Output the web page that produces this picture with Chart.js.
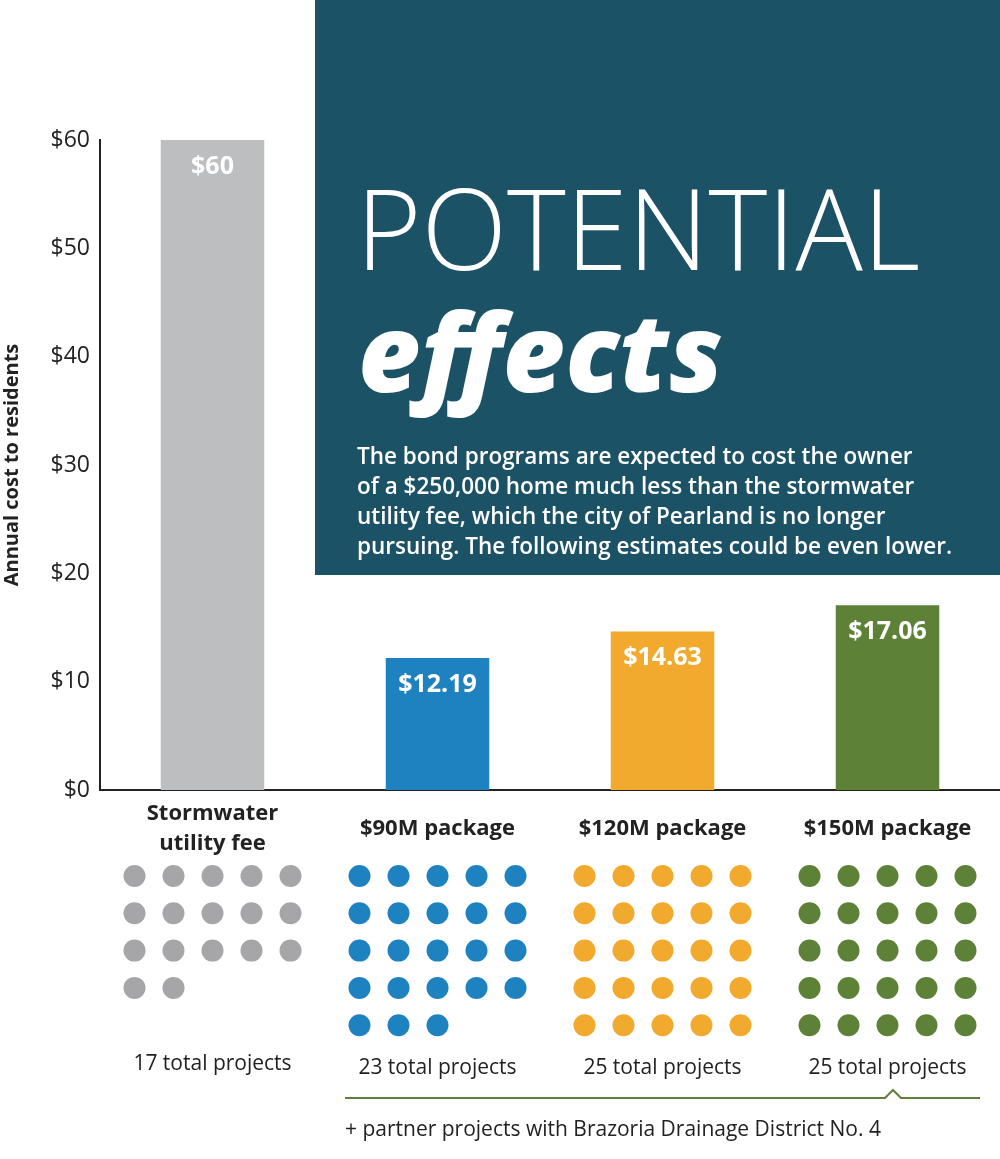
<!DOCTYPE html>
<html><head><meta charset="utf-8">
<script src="https://cdn.jsdelivr.net/npm/chart.js@4"></script>
<style>body{margin:0;background:#fff}canvas{display:block}</style>
</head><body>
<canvas id="c" width="1000" height="1159"></canvas>
<script>
// datos
const categorias = ['Stormwater utility fee', '$90M package', '$120M package', '$150M package'];
const etiquetas = [['Stormwater', 'utility fee'], ['$90M package'], ['$120M package'], ['$150M package']];
const costos = [60, 12.19, 14.63, 17.06];
const valoresTexto = ['$60', '$12.19', '$14.63', '$17.06'];
const proyectos = [17, 23, 25, 25];
const colores = ['#bdbec0', '#1f82c0', '#f2aa2e', '#5d8137'];
const coloresPuntos = ['#a6a6a8', '#1f82c0', '#f2aa2e', '#5d8137'];
const ticksY = [0, 10, 20, 30, 40, 50, 60];

const FONT = '"Open Sans", sans-serif';

const decoracion = {
  id: 'decoracion',
  beforeDraw(chart) {
    const ctx = chart.ctx;
    ctx.save();
    ctx.fillStyle = '#1c5266';
    ctx.fillRect(315, 0, 685, 575);
    ctx.fillStyle = '#fff';
    ctx.textBaseline = 'alphabetic';
    ctx.font = '200 112px ' + FONT;
    ctx.fillText('POTENTIAL', 356, 270);
    ctx.font = 'italic 800 108px ' + FONT;
    ctx.fillText('effects', 358, 392);
    ctx.font = '600 22.5px ' + FONT;
    const lineas = ['The bond programs are expected to cost the owner',
      'of a $250,000 home much less than the stormwater',
      'utility fee, which the city of Pearland is no longer',
      'pursuing. The following estimates could be even lower.'];
    lineas.forEach((l, i) => ctx.fillText(l, 357, 464 + i * 30));
    ctx.restore();
  },
  afterDraw(chart) {
    const ctx = chart.ctx;
    const x = chart.scales.x, y = chart.scales.y;
    ctx.save();
    // valores en barras
    ctx.fillStyle = '#fff';
    ctx.font = 'bold 25px ' + FONT;
    ctx.textAlign = 'center';
    ctx.textBaseline = 'top';
    costos.forEach((v, i) => ctx.fillText(valoresTexto[i], x.getPixelForValue(i), y.getPixelForValue(v) + 14));
    // etiquetas de categoria
    ctx.fillStyle = '#222';
    ctx.font = 'bold 22px ' + FONT;
    ctx.textBaseline = 'alphabetic';
    etiquetas.forEach((lab, i) => {
      const cx = x.getPixelForValue(i);
      if (lab.length === 2) {
        ctx.fillText(lab[0], cx, 820);
        ctx.fillText(lab[1], cx, 850);
      } else ctx.fillText(lab[0], cx, 835);
    });
    // puntos
    proyectos.forEach((n, i) => {
      const cx = x.getPixelForValue(i);
      ctx.fillStyle = coloresPuntos[i];
      for (let k = 0; k < n; k++) {
        const col = k % 5, fila = Math.floor(k / 5);
        ctx.beginPath();
        ctx.arc(cx - 78 + col * 39, 876 + fila * 37.3, 11, 0, Math.PI * 2);
        ctx.fill();
      }
      ctx.fillStyle = '#222';
      ctx.font = '21px ' + FONT;
      ctx.fillText(n + ' total projects', cx, i === 0 ? 1070 : 1074);
    });
    // linea inferior
    ctx.strokeStyle = '#5d8137';
    ctx.lineWidth = 2;
    ctx.beginPath();
    ctx.moveTo(345, 1098); ctx.lineTo(885, 1098); ctx.lineTo(893, 1090);
    ctx.lineTo(901, 1098); ctx.lineTo(980, 1098);
    ctx.stroke();
    ctx.fillStyle = '#222';
    ctx.font = '21px ' + FONT;
    ctx.textAlign = 'left';
    ctx.fillText('+ partner projects with Brazoria Drainage District No. 4', 345, 1136);
    ctx.restore();
  }
};

new Chart(document.getElementById('c'), {
  type: 'bar',
  data: {
    labels: categorias,
    datasets: [{
      data: costos,
      backgroundColor: colores,
      barPercentage: 0.92,
      categoryPercentage: 0.5
    }]
  },
  options: {
    responsive: false,
    animation: false,
    layout: { padding: { top: 140, bottom: 369, left: 0, right: 0 } },
    plugins: { legend: { display: false }, tooltip: { enabled: false } },
    scales: {
      x: {
        grid: { display: false, drawTicks: false },
        border: { display: true, color: '#222', width: 2 },
        ticks: { display: false }
      },
      y: {
        min: 0, max: 60,
        afterBuildTicks(s) { s.ticks = ticksY.map(v => ({ value: v })); },
        afterFit(s) { s.width = 100; },
        grid: { display: false, drawTicks: true, tickLength: 6 },
        border: { display: true, color: '#222', width: 2 },
        ticks: {
          color: '#222', font: { family: FONT, size: 23 }, padding: 4,
          callback: v => '$' + v
        },
        title: {
          display: true, text: 'Annual cost to residents', color: '#222',
          font: { family: FONT, size: 20, weight: 'bold' }, padding: 0
        }
      }
    }
  },
  plugins: [decoracion]
});
</script>
</body></html>
